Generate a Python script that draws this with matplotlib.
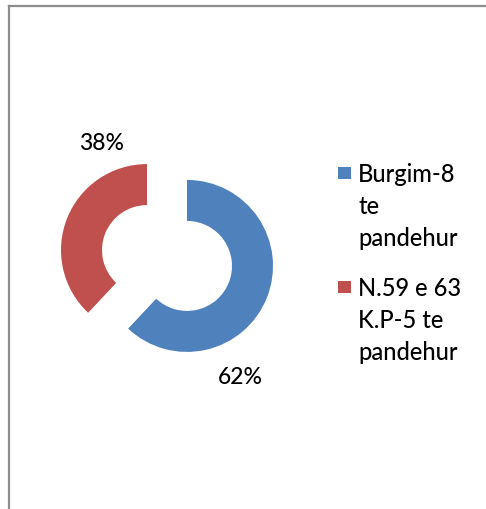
import matplotlib
matplotlib.use("Agg")
import matplotlib.pyplot as plt
from matplotlib.patches import Rectangle
from matplotlib.lines import Line2D

categories = ["Burgim-8\nte\npandehur", "N.59 e 63\nK.P-5 te\npandehur"]
values = [62, 38]
colors = ["#4F81BD", "#C0504D"]

W, H = 486, 510
fig = plt.figure(figsize=(W / 100, H / 100), dpi=100)
ax = fig.add_axes([0, 0, 1, 1])

FONT = ["Lato", "DejaVu Sans"]

# frame (chart border, partially visible)
ax.add_line(Line2D([9, W], [H - 7, H - 7], color="#8c8c8c", lw=1.6))
ax.add_line(Line2D([9, 9], [H - 7, 0], color="#8c8c8c", lw=1.6))

R = 86
center = (167, H - 259)
wedges, _, autotexts = ax.pie(
    values, colors=colors, startangle=90, counterclock=False,
    radius=R, center=center, explode=[21.5, 21.5],
    wedgeprops=dict(width=41, linewidth=0),
    autopct="%1.0f%%",
    textprops=dict(fontsize=16.5, family=FONT, color="#000000", fontweight="medium"),
)
ax.set_xlim(0, W)
ax.set_ylim(0, H)
ax.set_aspect("equal")
ax.axis("off")

label_pos = [(240, H - 378), (102, H - 143)]
for t, p in zip(autotexts, label_pos):
    t.set_position(p)
    t.set_ha("center")
    t.set_va("center")

# legend
entry_tops = [174, 288]
line_gap = 32.5
for lab, col, y0 in zip(categories, colors, entry_tops):
    ax.add_patch(Rectangle((338, H - y0 - 6), 13, 12, facecolor=col, edgecolor="none"))
    for i, line in enumerate(lab.split("\n")):
        ax.text(358, H - (y0 + i * line_gap), line, fontsize=17, family=FONT,
                fontweight="medium", ha="left", va="center", color="#000000")

fig.savefig("out.png", dpi=100)
